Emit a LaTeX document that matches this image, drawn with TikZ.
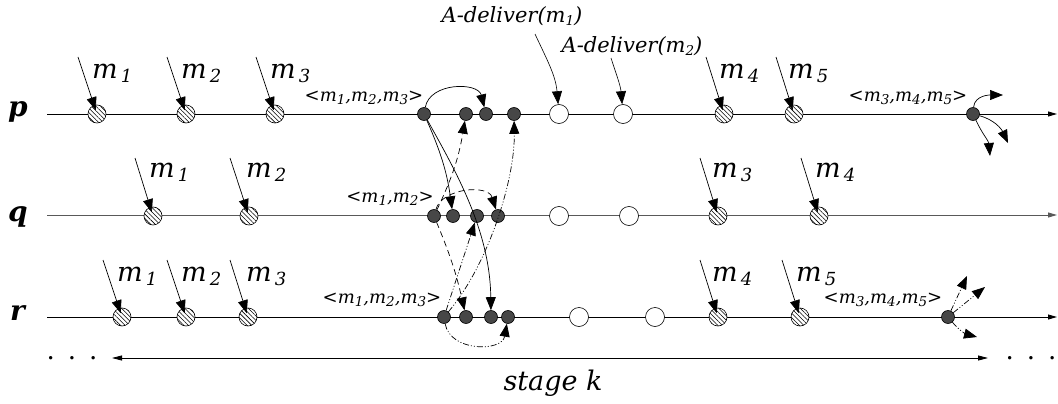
\documentclass[tikz,border=0pt]{standalone}
\usepackage{fontspec}
\setmainfont{DejaVu Serif}
\usetikzlibrary{arrows.meta,patterns.meta}

% large message label  m_i
\newcommand{\inlab}[1]{{\fontsize{27}{27}\selectfont\itshape m\hspace{3pt}\raisebox{-4pt}{\fontsize{18}{18}\selectfont #1}}}
% small message name inside a batch
\newcommand{\bm}[1]{m\raisebox{-3pt}{\fontsize{13.5}{13.5}\selectfont #1}}
% batch label  <m_i,...>
\newcommand{\batchlab}[1]{{\fontsize{18}{18}\selectfont\itshape <#1>}}
% process name
\newcommand{\procname}[1]{{\fontsize{28}{28}\selectfont\bfseries\itshape #1}}

\begin{document}
\begin{tikzpicture}[x=1pt,y=-1pt,
  timeline/.style={line width=0.8pt,-{Triangle[length=9pt,width=5pt]}},
  hatched/.style={circle,draw,line width=0.6pt,minimum size=18pt,inner sep=0pt,
    preaction={fill=white},pattern={Lines[angle=-45,distance=3.2pt,line width=0.55pt]}},
  delivered/.style={circle,draw,line width=0.6pt,minimum size=19pt,inner sep=0pt,fill=white},
  batch/.style={circle,draw,line width=0.6pt,minimum size=13pt,inner sep=0pt,fill=black!72},
  head/.style={-{Triangle[length=13pt,width=10pt]}},
  incoming/.style={head,line width=0.7pt,shorten >=4pt},
  solidmsg/.style={head,line width=0.7pt},
  dashmsg/.style={head,line width=0.7pt,dash pattern=on 6pt off 4pt},
  dotmsg/.style={head,line width=0.7pt,dash pattern=on 6pt off 2pt on 1pt off 2pt on 1pt off 2pt},
  lab/.style={inner sep=0pt,anchor=base west},
  txt/.style={inner sep=0pt}]
\useasboundingbox (0,0) rectangle (1058,404);

% ---------------- time lines ----------------
\coordinate (pS) at (47,114);  \coordinate (pE) at (1057,114);
\coordinate (qS) at (47,215);  \coordinate (qE) at (1057,215);
\coordinate (rS) at (47,317);  \coordinate (rE) at (1057,317);
\draw[timeline] (pS) -- (pE);
\draw[timeline,black!65] (qS) -- (qE);
\draw[timeline] (rS) -- (rE);

\node[lab] (pn) at (8,117) {\procname{p}};
\node[lab] (qn) at (8,221) {\procname{q}};
\node[lab] (rn) at (10,320) {\procname{r}};

% ---------------- events on p ----------------
\node[hatched] (p1) at (97,114) {};
\node[hatched] (p2) at (186,114) {};
\node[hatched] (p3) at (275,114) {};
\node[batch] (pb) at (424,114) {};
\node[batch] (pa1) at (466,114) {};
\node[batch] (pa2) at (486,114) {};
\node[batch] (pa3) at (514,114) {};
\node[delivered] (pd1) at (559,114) {};
\node[delivered] (pd2) at (623,114) {};
\node[hatched] (p4) at (724,114) {};
\node[hatched] (p5) at (794,114) {};
\node[batch] (pc) at (973,114) {};

% ---------------- events on q ----------------
\node[hatched] (q1) at (153,216) {};
\node[hatched] (q2) at (249,216) {};
\node[batch] (qb) at (434,216) {};
\node[batch] (qa1) at (453,216) {};
\node[batch] (qa2) at (477,216) {};
\node[batch] (qa3) at (498,216) {};
\node[delivered] (qd1) at (559,216) {};
\node[delivered] (qd2) at (629,216) {};
\node[hatched] (q3) at (718,216) {};
\node[hatched] (q4) at (819,216) {};

% ---------------- events on r ----------------
\node[hatched] (r1) at (122,317) {};
\node[hatched] (r2) at (186,317) {};
\node[hatched] (r3) at (248,317) {};
\node[batch] (rb) at (444,317) {};
\node[batch] (ra1) at (466,317) {};
\node[batch] (ra2) at (491,317) {};
\node[batch] (ra3) at (508,317) {};
\node[delivered] (rd1) at (579,317) {};
\node[delivered] (rd2) at (655,317) {};
\node[hatched] (r4) at (718,317) {};
\node[hatched] (r5) at (800,317) {};
\node[batch] (rc) at (948,317) {};

% ---------------- incoming application messages ----------------
\coordinate (p1s) at (78,57);   \coordinate (p2s) at (167,57);  \coordinate (p3s) at (256,57);
\coordinate (p4s) at (706,57);  \coordinate (p5s) at (776,57);
\coordinate (q1s) at (135,158); \coordinate (q2s) at (230,158);
\coordinate (q3s) at (700,158); \coordinate (q4s) at (801,158);
\coordinate (r1s) at (103,260); \coordinate (r2s) at (167,260); \coordinate (r3s) at (230,260);
\coordinate (r4s) at (700,260); \coordinate (r5s) at (782,260);
\foreach \e in {p1,p2,p3,p4,p5,q1,q2,q3,q4,r1,r2,r3,r4,r5}
  \draw[incoming] (\e s) -- (\e.center);

\node[lab] (lp1) at (92,78) {\inlab{1}};
\node[lab] (lp2) at (181,78) {\inlab{2}};
\node[lab] (lp3) at (270,78) {\inlab{3}};
\node[lab] (lp4) at (719,78) {\inlab{4}};
\node[lab] (lp5) at (788,78) {\inlab{5}};
\node[lab] (lq1) at (149,177) {\inlab{1}};
\node[lab] (lq2) at (246,177) {\inlab{2}};
\node[lab] (lq3) at (712,177) {\inlab{3}};
\node[lab] (lq4) at (815,177) {\inlab{4}};
\node[lab] (lr1) at (117,281) {\inlab{1}};
\node[lab] (lr2) at (181,281) {\inlab{2}};
\node[lab] (lr3) at (246,281) {\inlab{3}};
\node[lab] (lr4) at (712,281) {\inlab{4}};
\node[lab] (lr5) at (796,281) {\inlab{5}};

% ---------------- batch labels ----------------
\node[txt] (bp) at (364,98) {\batchlab{\bm{1},\bm{2},\bm{3}}};
\node[txt] (bq) at (390,199) {\batchlab{\bm{1},\bm{2}}};
\node[txt] (br) at (382,300) {\batchlab{\bm{1},\bm{2},\bm{3}}};
\node[txt] (bp2) at (908,98) {\batchlab{\bm{3},\bm{4},\bm{5}}};
\node[txt] (br2) at (883,300) {\batchlab{\bm{3},\bm{4},\bm{5}}};

% ---------------- delivery labels ----------------
\node[txt] (ad1) at (512,16) {{\fontsize{21}{21}\selectfont\itshape A-deliver(\bm{1})}};
\node[txt] (ad2) at (632,46) {{\fontsize{21}{21}\selectfont\itshape A-deliver(\bm{2})}};
\coordinate (ad1s) at (535,34);
\coordinate (ad2s) at (611,58);
\draw[solidmsg,line width=0.6pt] (ad1s) to[out=-65,in=95] (pd1);
\draw[solidmsg,line width=0.6pt] (ad2s) to[out=-72,in=95] (pd2);

% ---------------- batch sent by p (solid) ----------------
\draw[solidmsg] (pb) .. controls (430,82) and (478,82) .. (pa2);
\draw[solidmsg] (pb) to[bend left=8] (qa1);
\draw[solidmsg] (pb) .. controls (455,170) and (490,230) .. (ra2);

% ---------------- batch sent by q (dashed) ----------------
\draw[dashmsg] (qb) to[bend right=8] (pa1);
\draw[dashmsg] (qb) .. controls (442,188) and (488,184) .. (qa3);
\draw[dashmsg] (qb) to[bend left=5] (ra1);

% ---------------- batch sent by r (dash dot dot) ----------------
\draw[dotmsg] (rb) -- (qa2);
\draw[dotmsg] (rb) .. controls (488,265) and (515,180) .. (pa3);
\draw[dotmsg] (rb) .. controls (450,352) and (502,352) .. (ra3);

% ---------------- next batches ----------------
\coordinate (pcA) at (1003,95);
\coordinate (pcB) at (1008,143);
\coordinate (pcC) at (990,156);
\draw[solidmsg] (pc) to[out=85,in=180] (pcA);
\draw[solidmsg] (pc) to[out=-15,in=115] (pcB);
\draw[solidmsg] (pc) to[out=-65,in=95] (pcC);
\coordinate (rcA) at (967,276);
\coordinate (rcB) at (985,287);
\coordinate (rcC) at (977,337);
\draw[dotmsg] (rc) -- (rcA);
\draw[dotmsg] (rc) -- (rcB);
\draw[dotmsg] (rc) to[out=-50,in=165] (rcC);

% ---------------- stage ----------------
\coordinate (stL) at (112,358);
\coordinate (stR) at (988,358);
\draw[line width=0.8pt,{Triangle[length=10pt,width=5pt]}-{Triangle[length=10pt,width=5pt]}] (stL) -- (stR);
\node[txt] (dl) at (72,358) {{\fontsize{26}{26}\selectfont .\hspace{13pt}.\hspace{13pt}.}};
\node[txt] (dr) at (1031,358) {{\fontsize{26}{26}\selectfont .\hspace{13pt}.\hspace{13pt}.}};
\node[txt] (stage) at (553,383) {{\fontsize{27}{27}\selectfont\itshape stage k}};
\end{tikzpicture}
\end{document}
